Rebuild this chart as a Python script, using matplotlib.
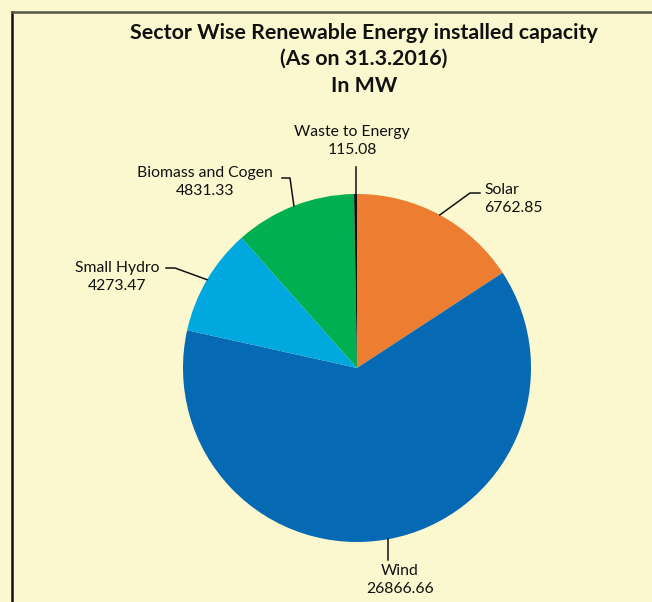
import matplotlib
matplotlib.use("Agg")
import matplotlib.pyplot as plt
import numpy as np

categories = ["Solar", "Wind", "Small Hydro", "Biomass and Cogen", "Waste to Energy"]
values = [6762.85, 26866.66, 4273.47, 4831.33, 115.08]
value_labels = ["6762.85", "26866.66", "4273.47", "4831.33", "115.08"]
colors = ["#ED7D31", "#0569B3", "#00A8E0", "#00AF50", "#111111"]
title_lines = ["Sector Wise Renewable Energy installed capacity", "(As on 31.3.2016)", "In MW"]

W, H = 652, 602
bg = "#FBF7CF"
fig = plt.figure(figsize=(W / 100, H / 100), dpi=100, facecolor=bg)
ax = fig.add_axes([0, 0, 1, 1])
ax.set_facecolor(bg)

cx, cy, R = 357, H - 368, 174
wedges, _ = ax.pie(values, colors=colors, startangle=90, counterclock=False,
                   center=(cx, cy), radius=R, wedgeprops=dict(linewidth=0))
ax.set_xlim(0, W)
ax.set_ylim(0, H)
ax.set_aspect("equal")
ax.axis("off")

font = "Lato"
# border
ax.plot([11.5, 11.5], [0, H - 11.5], color="#111111", lw=1.8, solid_capstyle="projecting")
ax.plot([11.5, W], [H - 11.5, H - 11.5], color="#57574a", lw=1.8, solid_capstyle="projecting")

# title
for i, (t, yy) in enumerate(zip(title_lines, [33, 59, 86])):
    ax.text(364, H - yy, t, ha="center", va="center", fontsize=15.4,
            fontweight="bold", family=font, color="#111111")

# label layout: (text x, text y (pixels from top), ha, elbow point, start point)
layout = {
    "Solar": (484, 199, "left", (470, 193), (480, 193)),
    "Wind": (400, 580, "center", None, None),
    "Small Hydro": (117, 277, "center", (175, 268), (166, 268)),
    "Biomass and Cogen": (205, 182, "center", (290, 178), (282, 178)),
    "Waste to Energy": (352, 141, "center", None, None),
}

for w, cat, vl in zip(wedges, categories, value_labels):
    tx, ty, ha, elbow, start = layout[cat]
    mid = np.deg2rad((w.theta1 + w.theta2) / 2)
    ex, ey = cx + R * np.cos(mid), cy + R * np.sin(mid)
    ax.text(tx, H - ty, f"{cat}\n{vl}", ha=ha, va="center", fontsize=11.3,
            family=font, color="#111111", linespacing=1.4, multialignment=ha)
    if cat == "Waste to Energy":
        ax.plot([ex, ex], [H - 167, ey], color="#111111", lw=1.1)
    elif cat == "Wind":
        ax.plot([ex, ex], [ey, H - 560], color="#111111", lw=1.1)
    else:
        ax.plot([start[0], elbow[0], ex], [H - start[1], H - elbow[1], ey],
                color="#111111", lw=1.1)

fig.savefig("out.png", dpi=100, facecolor=bg)
